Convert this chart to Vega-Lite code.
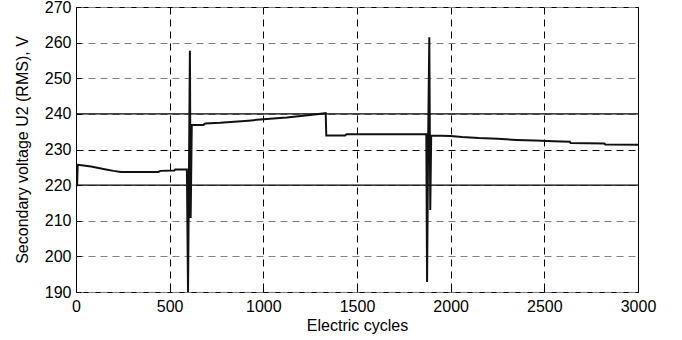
{
  "$schema": "https://vega.github.io/schema/vega-lite/v6.json",
  "width": 562,
  "height": 285,
  "autosize": {"type": "none"},
  "padding": {"left": 76, "top": 7, "right": 44, "bottom": 48},
  "background": "white",
  "config": {
    "view": {"stroke": "black", "strokeWidth": 1},
    "font": "Liberation Sans",
    "axis": {
      "domain": false,
      "labelFont": "Liberation Sans",
      "titleFont": "Liberation Sans",
      "labelFontSize": 16,
      "titleFontSize": 16,
      "titleFontWeight": "normal",
      "labelColor": "black",
      "titleColor": "black",
      "tickColor": "black",
      "tickSize": -5,
      "gridWidth": 1,
      "gridDash": [7, 5],
      "gridOpacity": 1,
      "labelOverlap": false,
      "labelFlush": false,
      "format": "d"
    }
  },
  "layer": [
    {
      "data": {"values": [{"limit": 220}, {"limit": 240}]},
      "mark": {"type": "rule", "color": "black", "strokeWidth": 1.3},
      "encoding": {
        "y": {
          "field": "limit",
          "type": "quantitative",
          "title": "Secondary voltage U2 (RMS), V",
          "scale": {"domain": [190, 270], "nice": false},
          "axis": {
            "values": [190, 200, 210, 220, 230, 240, 250, 260, 270],
            "labelPadding": 10,
            "titlePadding": 14,
            "gridColor": {"condition": {"test": "datum.value === 230", "value": "black"}, "value": "#808080"}
          }
        }
      }
    },
    {
      "data": {
        "values": [
          {"cycle": 0, "u2": 220.0},
          {"cycle": 6, "u2": 220.0},
          {"cycle": 9, "u2": 225.7},
          {"cycle": 40, "u2": 225.5},
          {"cycle": 80, "u2": 225.2},
          {"cycle": 120, "u2": 224.8},
          {"cycle": 160, "u2": 224.4},
          {"cycle": 200, "u2": 224.0},
          {"cycle": 240, "u2": 223.7},
          {"cycle": 440, "u2": 223.7},
          {"cycle": 450, "u2": 224.0},
          {"cycle": 525, "u2": 224.1},
          {"cycle": 530, "u2": 224.4},
          {"cycle": 592, "u2": 224.4},
          {"cycle": 598, "u2": 190.0},
          {"cycle": 608, "u2": 257.7},
          {"cycle": 612, "u2": 210.8},
          {"cycle": 618, "u2": 236.9},
          {"cycle": 680, "u2": 236.9},
          {"cycle": 690, "u2": 237.3},
          {"cycle": 770, "u2": 237.5},
          {"cycle": 920, "u2": 238.1},
          {"cycle": 1000, "u2": 238.5},
          {"cycle": 1125, "u2": 239.0},
          {"cycle": 1250, "u2": 239.7},
          {"cycle": 1333, "u2": 240.2},
          {"cycle": 1336, "u2": 233.9},
          {"cycle": 1436, "u2": 233.9},
          {"cycle": 1445, "u2": 234.3},
          {"cycle": 1870, "u2": 234.3},
          {"cycle": 1874, "u2": 192.8},
          {"cycle": 1880, "u2": 234.0},
          {"cycle": 1886, "u2": 261.5},
          {"cycle": 1891, "u2": 213.0},
          {"cycle": 1896, "u2": 233.9},
          {"cycle": 2000, "u2": 233.8},
          {"cycle": 2060, "u2": 233.5},
          {"cycle": 2150, "u2": 233.2},
          {"cycle": 2250, "u2": 233.0},
          {"cycle": 2350, "u2": 232.7},
          {"cycle": 2450, "u2": 232.5},
          {"cycle": 2550, "u2": 232.3},
          {"cycle": 2636, "u2": 232.2},
          {"cycle": 2640, "u2": 231.8},
          {"cycle": 2820, "u2": 231.7},
          {"cycle": 2825, "u2": 231.4},
          {"cycle": 3000, "u2": 231.3}
        ]
      },
      "mark": {"type": "line", "color": "#111111", "strokeWidth": 2, "clip": true},
      "encoding": {
        "x": {
          "field": "cycle",
          "type": "quantitative",
          "title": "Electric cycles",
          "scale": {"domain": [0, 3000], "nice": false},
          "axis": {
            "values": [0, 500, 1000, 1500, 2000, 2500, 3000],
            "labelPadding": 11,
            "titlePadding": 3,
            "gridColor": "black"
          }
        },
        "y": {
          "field": "u2",
          "type": "quantitative",
          "title": "Secondary voltage U2 (RMS), V",
          "scale": {"domain": [190, 270], "nice": false},
          "axis": {
            "values": [190, 200, 210, 220, 230, 240, 250, 260, 270],
            "labelPadding": 10,
            "titlePadding": 14,
            "gridColor": {"condition": {"test": "datum.value === 230", "value": "black"}, "value": "#808080"}
          }
        },
        "order": {"value": null}
      }
    }
  ]
}
